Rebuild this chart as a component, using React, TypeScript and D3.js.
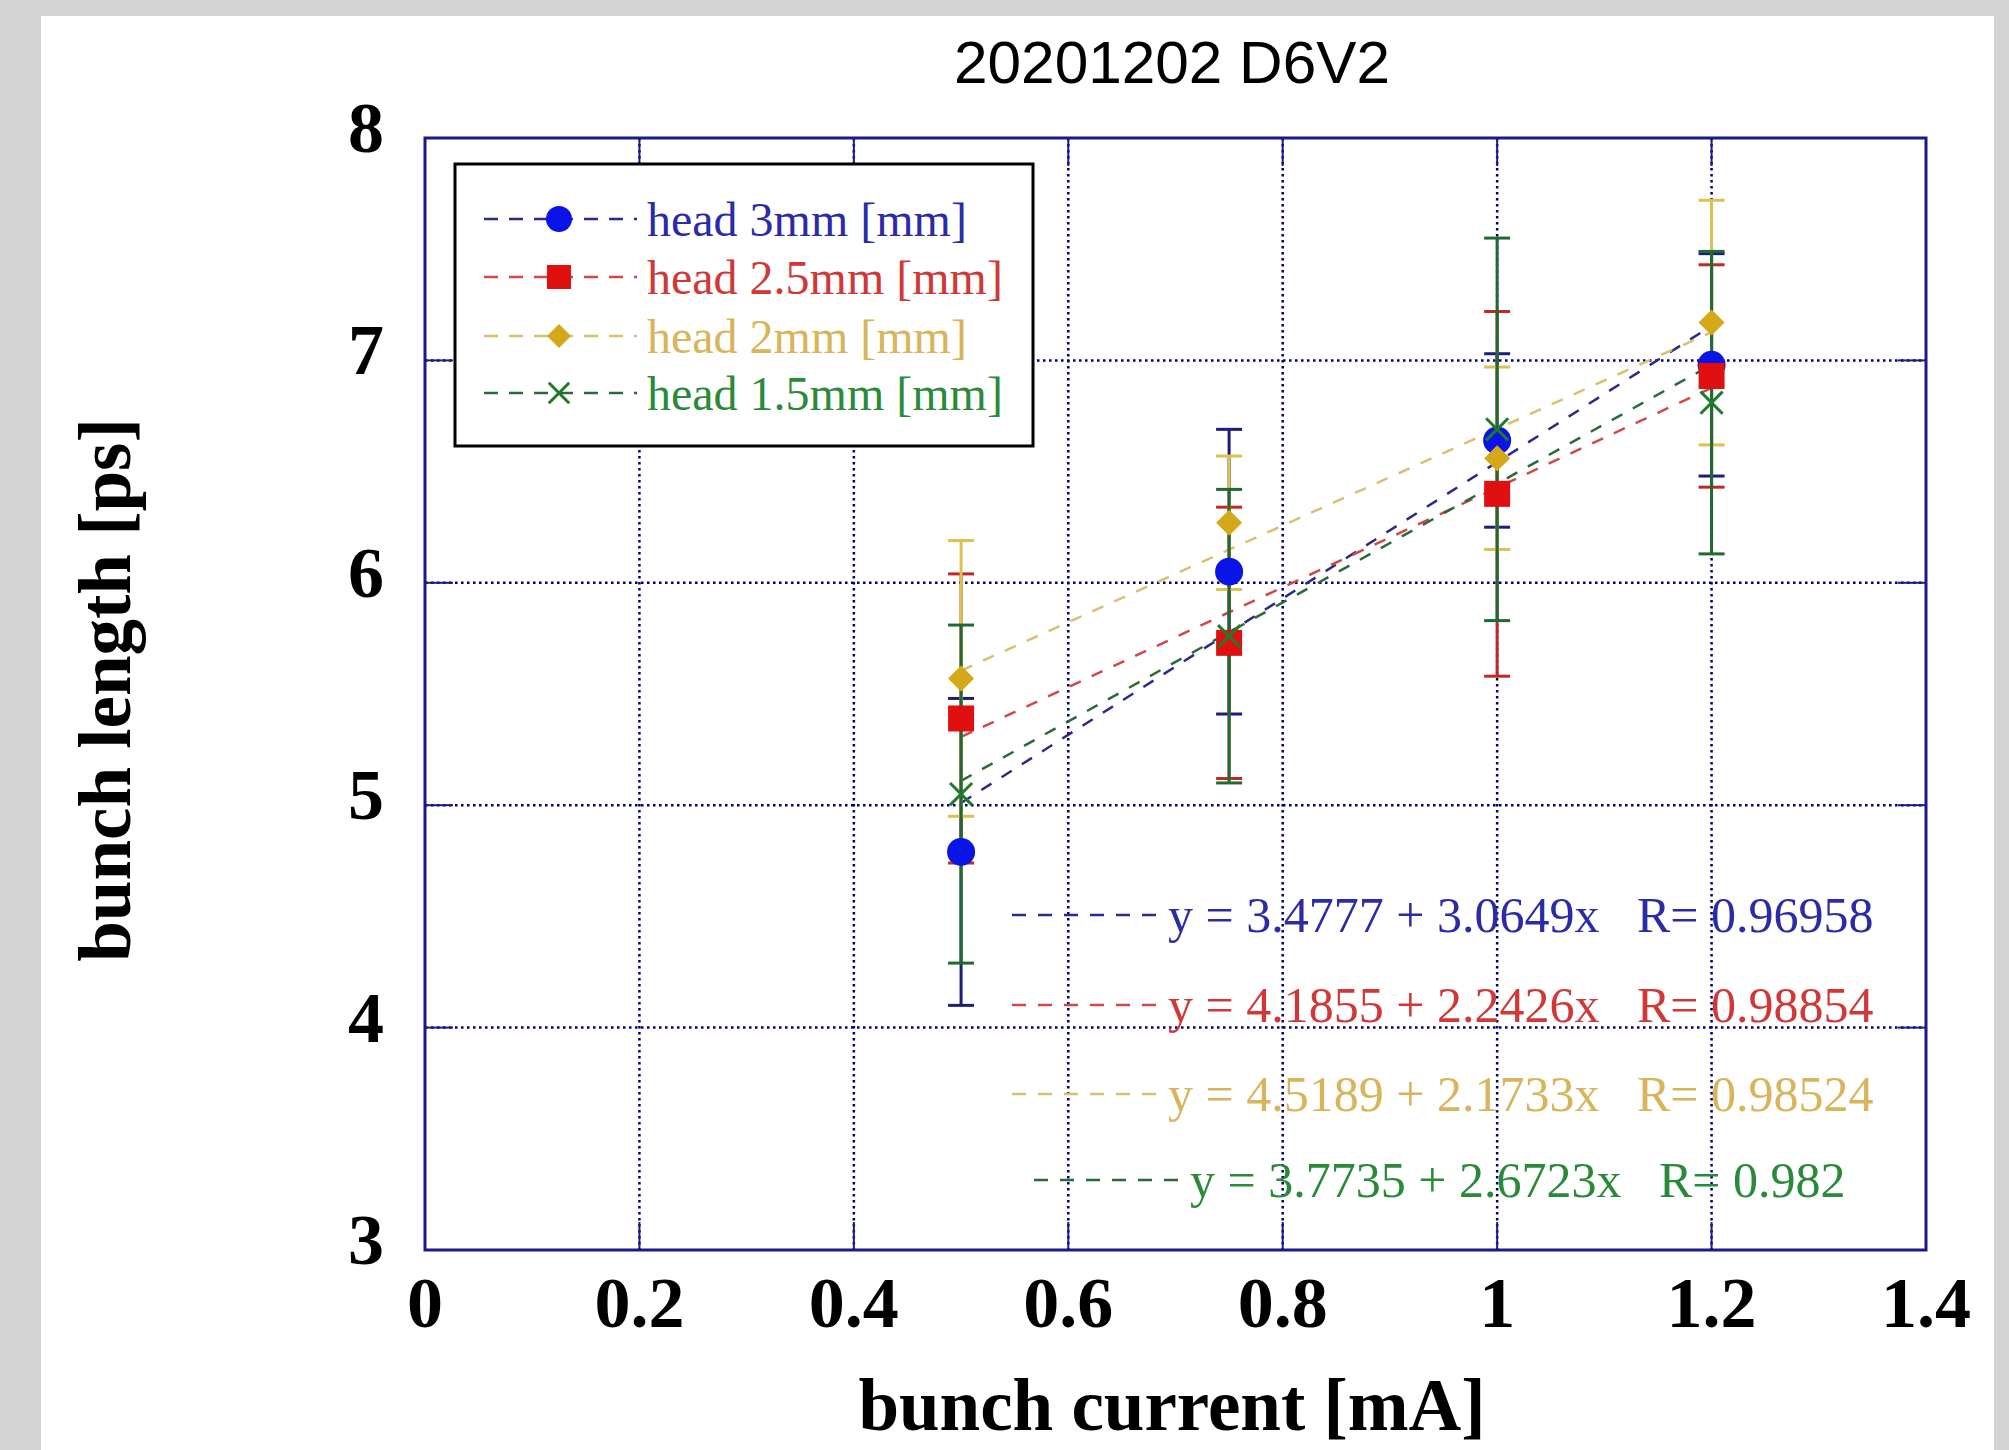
import React from 'react';
import * as d3 from 'd3';

// bunch current [mA]
const currents = [0.5, 0.75, 1, 1.2];

const seriesNames = ['head 3mm [mm]', 'head 2.5mm [mm]', 'head 2mm [mm]', 'head 1.5mm [mm]'];

// bunch length [ps] and errors per series
const head3 = [4.79, 6.05, 6.64, 6.98];
const head3Err = [0.69, 0.64, 0.39, 0.5];
const head25 = [5.39, 5.73, 6.4, 6.93];
const head25Err = [0.65, 0.61, 0.82, 0.5];
const head2 = [5.57, 6.27, 6.56, 7.17];
const head2Err = [0.62, 0.3, 0.41, 0.55];
const head15 = [5.05, 5.76, 6.69, 6.81];
const head15Err = [0.76, 0.66, 0.86, 0.68];

// linear fits
const fitIntercepts = ['3.4777', '4.1855', '4.5189', '3.7735'];
const fitSlopes = ['3.0649', '2.2426', '2.1733', '2.6723'];
const fitR = ['0.96958', '0.98854', '0.98524', '0.982'];

const xTicks = [0, 0.2, 0.4, 0.6, 0.8, 1, 1.2, 1.4];
const yTicks = [3, 4, 5, 6, 7, 8];

const W = 2009;
const H = 1450;
const plot = { left: 425, right: 1926, top: 138, bottom: 1250 };

const markerColors = ['#0a14e6', '#e01010', '#d4a818', '#1f7a2a'];
const barColors = ['#1c1c7a', '#c02828', '#dcc050', '#1e6a30'];
const textColors = ['#2b2ba8', '#d03838', '#d8b45a', '#2a8a3a'];
const fitColors = ['#2a2a8a', '#d04848', '#d8c070', '#2a6a3a'];
const axisColor = '#1a1a88';
const serif = '"Liberation Serif", "DejaVu Serif", serif';

const values = [head3, head25, head2, head15];
const errors = [head3Err, head25Err, head2Err, head15Err];
const shapes = ['circle', 'square', 'diamond', 'cross'];

const Marker: React.FC<{ shape: string; x: number; y: number; color: string; s?: number }> = ({ shape, x, y, color, s = 13 }) => {
  if (shape === 'circle') return <circle cx={x} cy={y} r={s + 1} fill={color} />;
  if (shape === 'square') return <rect x={x - s} y={y - s} width={2 * s} height={2 * s} fill={color} />;
  if (shape === 'diamond')
    return <path d={`M${x},${y - s}L${x + s},${y}L${x},${y + s}L${x - s},${y}Z`} fill={color} />;
  const k = s * 0.85;
  return (
    <path
      d={`M${x - k},${y - k}L${x + k},${y + k}M${x - k},${y + k}L${x + k},${y - k}`}
      stroke={color}
      strokeWidth={3}
      fill="none"
    />
  );
};

const App: React.FC = () => {
  const x = d3.scaleLinear().domain([0, 1.4]).range([plot.left, plot.right]);
  const y = d3.scaleLinear().domain([3, 8]).range([plot.bottom, plot.top]);
  const xMin = d3.min(currents) as number;
  const xMax = d3.max(currents) as number;

  const legendRows = [219, 277, 336, 393];
  const eqRows = [915, 1005, 1094, 1180];
  const eqShift = [0, 0, 0, 22];

  return (
    <svg width={W} height={H} style={{ position: 'absolute', left: 0, top: 0 }}>
      <rect x={0} y={0} width={W} height={H} fill="#d4d4d4" />
      <rect x={41} y={16} width={1953} height={H - 16} fill="#ffffff" />

      <text x={1172} y={62} textAnchor="middle" dominantBaseline="central"
        fontFamily='"Liberation Sans", Arial, sans-serif' fontSize={60} fill="#000"
        textLength={436} lengthAdjust="spacingAndGlyphs">
        20201202 D6V2
      </text>

      {/* grid */}
      {xTicks.slice(1, -1).map(t => (
        <line key={'gx' + t} x1={x(t)} x2={x(t)} y1={plot.top} y2={plot.bottom}
          stroke="#000070" strokeWidth={2.5} strokeDasharray="2.5,3.5" />
      ))}
      {yTicks.slice(1, -1).map(t => (
        <line key={'gy' + t} x1={plot.left} x2={plot.right} y1={y(t)} y2={y(t)}
          stroke="#000070" strokeWidth={2.5} strokeDasharray="2.5,3.5" />
      ))}

      {/* inward ticks */}
      {xTicks.map(t => (
        <g key={'tx' + t}>
          <line x1={x(t)} x2={x(t)} y1={plot.bottom} y2={plot.bottom - 28} stroke={axisColor} strokeWidth={2} />
          <line x1={x(t)} x2={x(t)} y1={plot.top} y2={plot.top + 28} stroke={axisColor} strokeWidth={2} />
        </g>
      ))}
      {yTicks.map(t => (
        <g key={'ty' + t}>
          <line x1={plot.left} x2={plot.left + 28} y1={y(t)} y2={y(t)} stroke={axisColor} strokeWidth={2} />
          <line x1={plot.right} x2={plot.right - 28} y1={y(t)} y2={y(t)} stroke={axisColor} strokeWidth={2} />
        </g>
      ))}

      <rect x={plot.left} y={plot.top} width={plot.right - plot.left} height={plot.bottom - plot.top}
        fill="none" stroke={axisColor} strokeWidth={3} />

      {/* tick labels */}
      {xTicks.map(t => (
        <text key={'lx' + t} x={x(t)} y={1303} textAnchor="middle" dominantBaseline="central"
          fontFamily={serif} fontWeight="bold" fontSize={72} fill="#000">
          {d3.format('~g')(t)}
        </text>
      ))}
      {yTicks.map(t => (
        <text key={'ly' + t} x={384} y={y(t) - 10} textAnchor="end" dominantBaseline="central"
          fontFamily={serif} fontWeight="bold" fontSize={72} fill="#000">
          {t}
        </text>
      ))}

      <text x={1172} y={1405} textAnchor="middle" dominantBaseline="central"
        fontFamily={serif} fontWeight="bold" fontSize={73} fill="#000">
        bunch current [mA]
      </text>
      <text transform="translate(105,690) rotate(-90)" textAnchor="middle" dominantBaseline="central"
        fontFamily={serif} fontWeight="bold" fontSize={73} fill="#000">
        bunch length [ps]
      </text>

      {/* fit lines */}
      {fitIntercepts.map((a, i) => {
        const b = +fitSlopes[i];
        return (
          <line key={'fit' + i} x1={x(xMin)} y1={y(+a + b * xMin)} x2={x(xMax)} y2={y(+a + b * xMax)}
            stroke={fitColors[i]} strokeWidth={2.5} strokeDasharray="12,12" />
        );
      })}

      {/* error bars */}
      {values.map((vals, i) => (
        <g key={'err' + i} stroke={barColors[i]} strokeWidth={3}>
          {vals.map((v, j) => {
            const cx = x(currents[j]);
            const y1 = y(v + errors[i][j]);
            const y2 = y(v - errors[i][j]);
            return (
              <g key={j}>
                <line x1={cx} x2={cx} y1={y1} y2={y2} />
                <line x1={cx - 13} x2={cx + 13} y1={y1} y2={y1} />
                <line x1={cx - 13} x2={cx + 13} y1={y2} y2={y2} />
              </g>
            );
          })}
        </g>
      ))}

      {/* markers */}
      {values.map((vals, i) => (
        <g key={'mk' + i}>
          {vals.map((v, j) => (
            <Marker key={j} shape={shapes[i]} x={x(currents[j])} y={y(v)} color={markerColors[i]} />
          ))}
        </g>
      ))}

      {/* legend */}
      <rect x={455} y={164} width={578} height={282} fill="#fff" stroke="#000" strokeWidth={3} />
      {seriesNames.map((name, i) => (
        <g key={'lg' + i}>
          <line x1={484} x2={637} y1={legendRows[i]} y2={legendRows[i]} stroke={fitColors[i]}
            strokeWidth={2.5} strokeDasharray="14,11" />
          <Marker shape={shapes[i]} x={559} y={legendRows[i]} color={markerColors[i]} s={12} />
          <text x={647} y={legendRows[i]} dominantBaseline="central" fontFamily={serif}
            fontSize={48} fill={textColors[i]}>
            {name}
          </text>
        </g>
      ))}

      {/* fit equations */}
      {fitIntercepts.map((a, i) => {
        const x0 = 1012 + eqShift[i];
        const yy = eqRows[i];
        return (
          <g key={'eq' + i}>
            <line x1={x0} x2={x0 + 148} y1={yy} y2={yy} stroke={fitColors[i]} strokeWidth={2.5}
              strokeDasharray="14,12" />
            <text x={x0 + 156} y={yy} dominantBaseline="central" fontFamily={serif} fontSize={50}
              fill={textColors[i]} style={{ whiteSpace: 'pre' }}>
              {`y = ${a} + ${fitSlopes[i]}x   R= ${fitR[i]}`}
            </text>
          </g>
        );
      })}
    </svg>
  );
};

export default App;
